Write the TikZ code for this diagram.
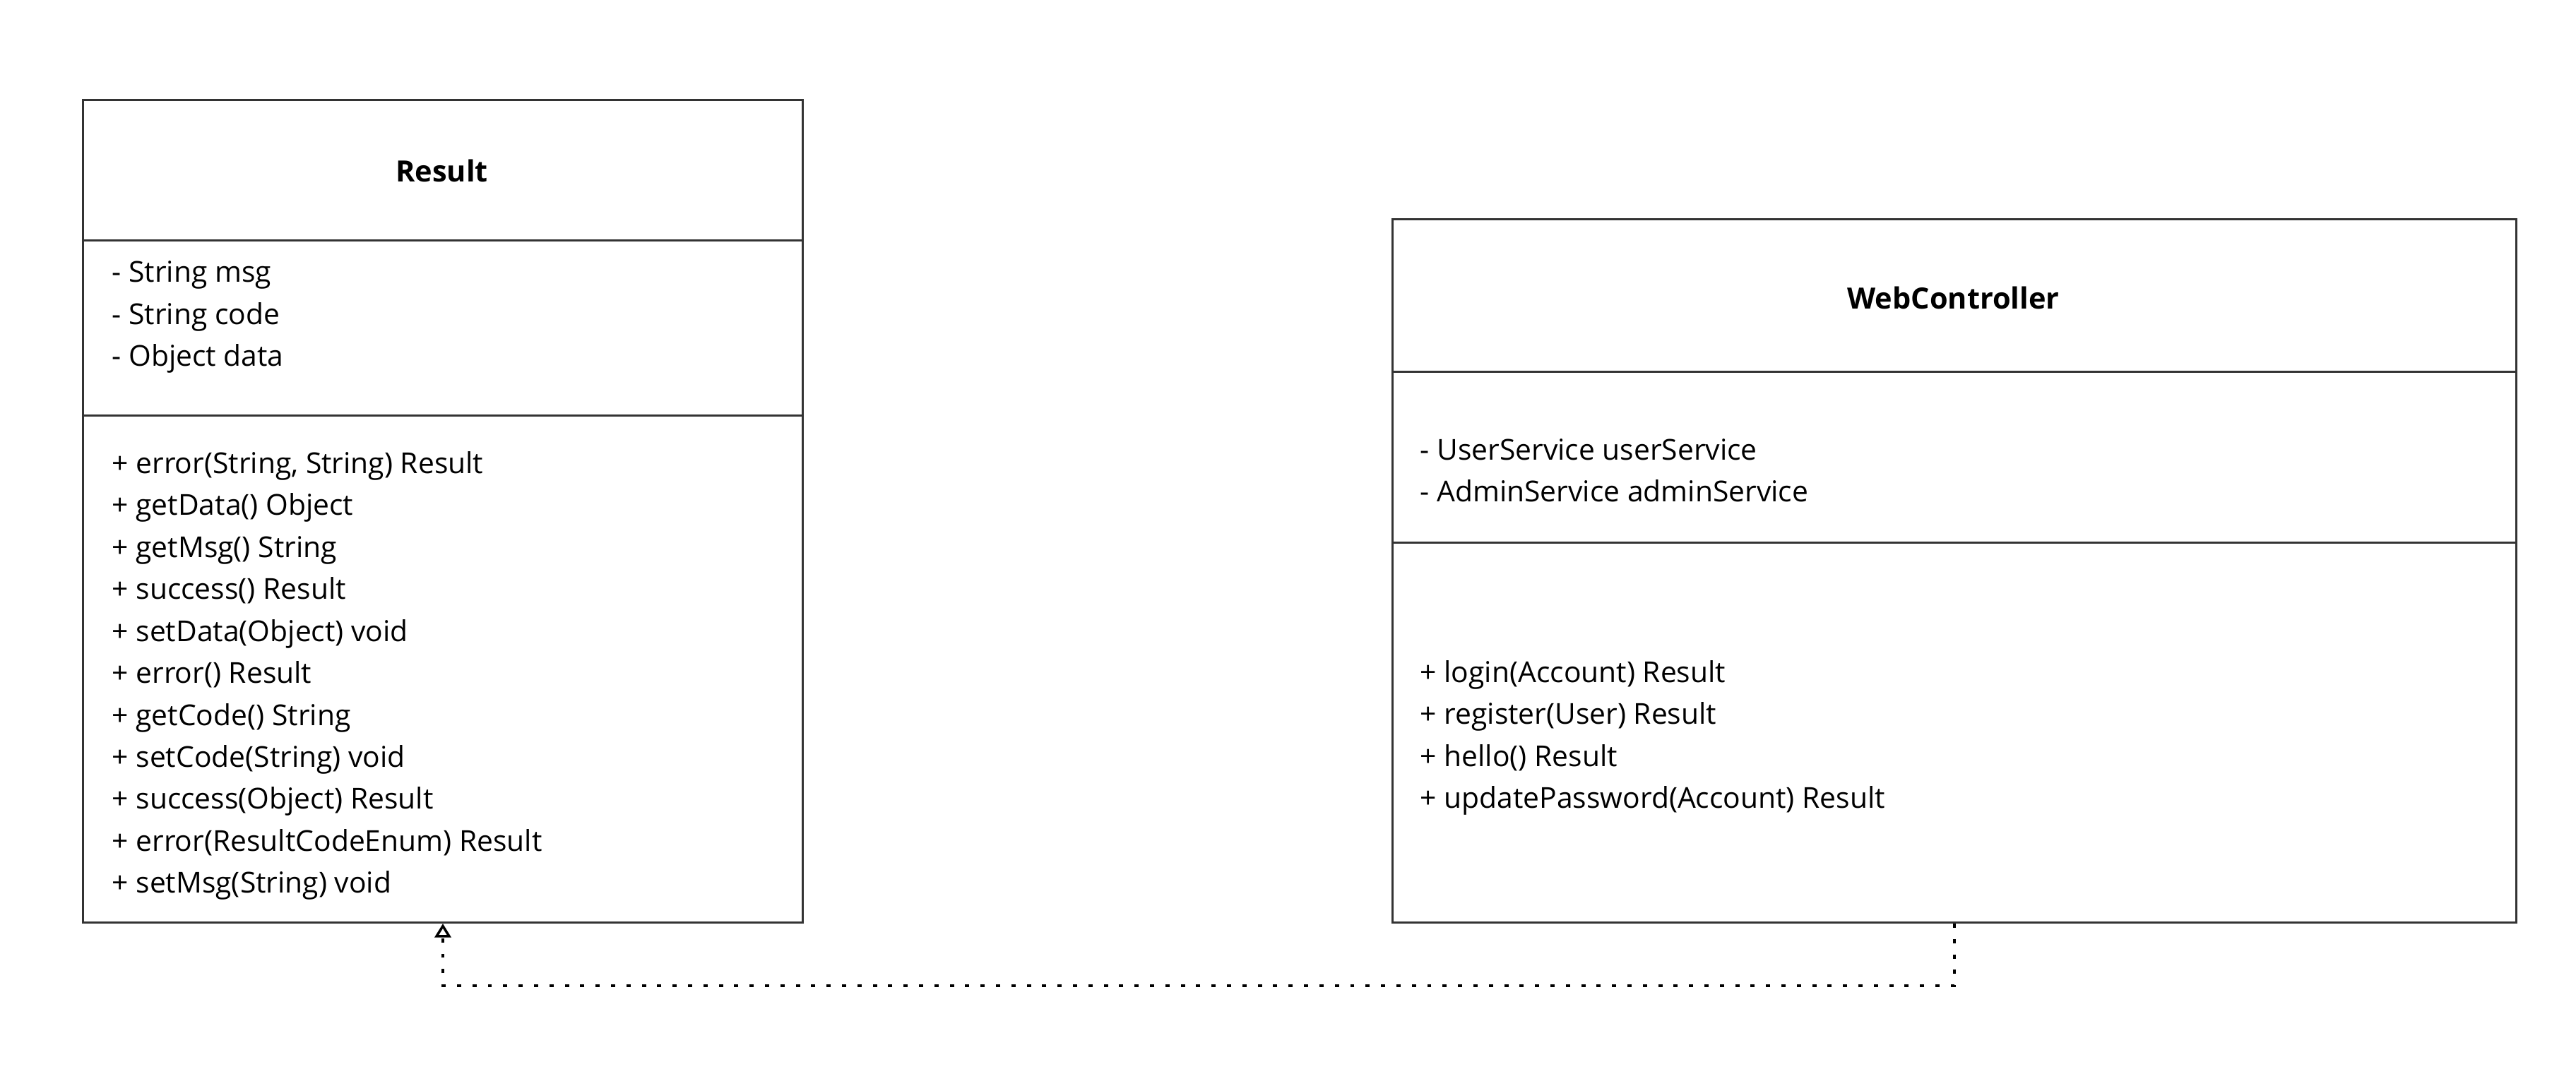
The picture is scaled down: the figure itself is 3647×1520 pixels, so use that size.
\documentclass[tikz,border=0pt]{standalone}
\usepackage{fontspec}
\setmainfont{Open Sans}
\usetikzlibrary{arrows.meta}
\definecolor{umlline}{HTML}{333333}
\tikzset{
  classbox/.style={draw=umlline, line width=0.85pt, rectangle, inner sep=0pt, anchor=north west},
  members/.style={anchor=west, inner sep=0pt, align=left, font=\fontsize{11.6}{16.9}\selectfont},
  classname/.style={font=\fontsize{11.8}{16.9}\selectfont\bfseries, inner sep=0pt},
  realize/.style={draw=black, line width=1.1pt, dash pattern=on 1.7pt off 4.5pt,
    -{Triangle[open, width=6.6pt, length=5.6pt, line width=1pt]}}
}
\begin{document}
\begin{tikzpicture}[x=0.01cm, y=-0.01cm]
    \useasboundingbox (0,0) rectangle (3647,1520);

    \node[classbox, minimum width=1019*0.01cm, minimum height=1165*0.01cm] (result) at (116,140) {};
    \draw[umlline, line width=0.85pt] (116,340) -- (1135,340);
    \draw[umlline, line width=0.85pt] (116,588) -- (1135,588);
    \node[classname] (resultname) at (625.5,242) {Result};
    \node[members] (resultattr) at (158,449) {- String msg\\- String code\\- Object data};
    \node[members] (resultops) at (158,957) {+ error(String, String) Result\\+ getData() Object\\+ getMsg() String\\+ success() Result\\+ setData(Object) void\\+ error() Result\\+ getCode() String\\+ setCode(String) void\\+ success(Object) Result\\+ error(ResultCodeEnum) Result\\+ setMsg(String) void};

    \node[classbox, minimum width=1591*0.01cm, minimum height=996*0.01cm] (web) at (1970,309) {};
    \draw[umlline, line width=0.85pt] (1970,526) -- (3561,526);
    \draw[umlline, line width=0.85pt] (1970,768) -- (3561,768);
    \node[classname] (webname) at (2765.5,422) {WebController};
    \node[members] (webattr) at (2010,666) {- UserService userService\\- AdminService adminService};
    \node[members] (webops) at (2010,1045) {+ login(Account) Result\\+ register(User) Result\\+ hello() Result\\+ updatePassword(Account) Result};

    \draw[realize] (web.south) -- ++(0,88) -| (result.south);
\end{tikzpicture}
\end{document}
